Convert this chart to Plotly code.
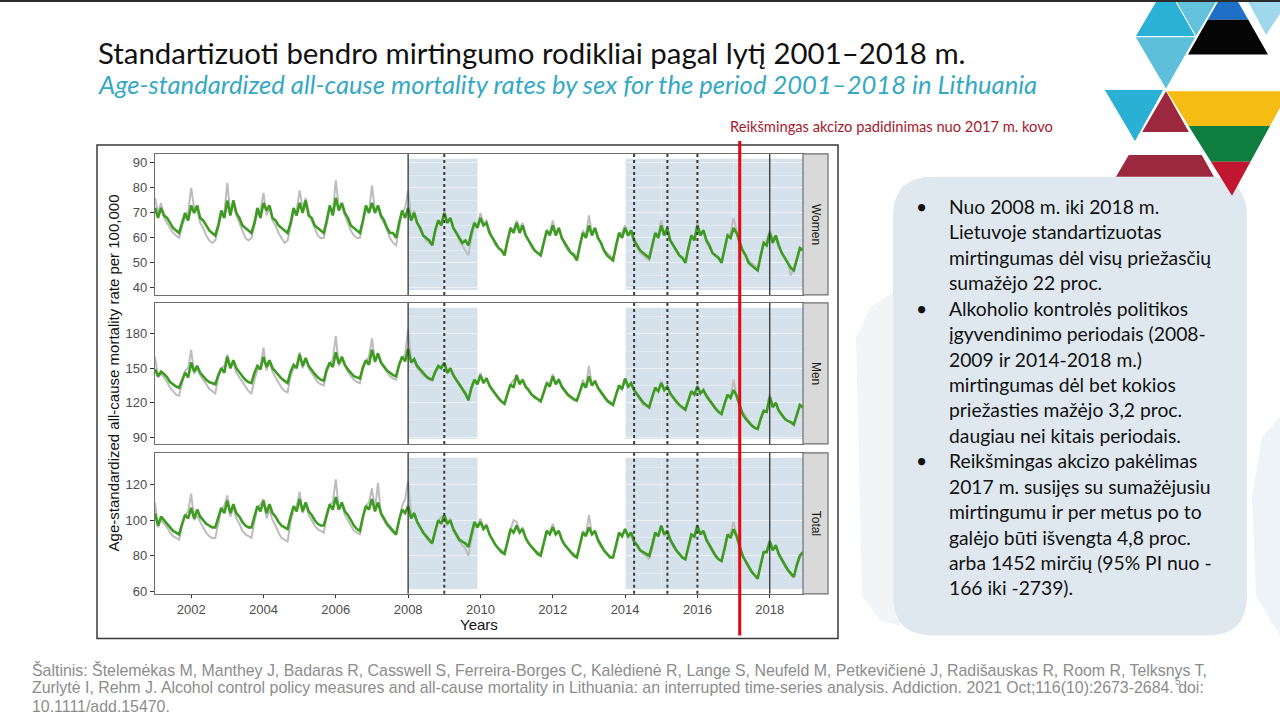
import plotly.graph_objects as go

# ---------------- data (monthly Jan..Dec) ----------------
YEARS = list(range(2001, 2019))

WOMEN_FIT = [
    72, 68, 72, 69, 68, 66, 64, 63, 62, 66, 70, 67,
    73, 70, 73, 68, 67, 65, 63, 62, 61, 65, 71, 68,
    75, 69, 75, 70, 68, 65, 64, 63, 62, 66, 72, 68,
    74, 71, 73, 68, 67, 65, 64, 63, 62, 66, 72, 69,
    74, 70, 75, 69, 68, 65, 64, 63, 62, 67, 73, 69,
    76, 71, 74, 70, 68, 65, 64, 63, 62, 67, 73, 70,
    74, 70, 73, 69, 67, 64, 62, 62, 60, 66, 71, 68,
    72, 67, 70, 66, 64, 61, 60, 59, 57, 63, 67, 65,
    70, 66, 68, 64, 62, 60, 58, 59, 57, 62, 66, 64,
    68, 65, 66, 62, 60, 58, 56, 55, 53, 59, 64, 62,
    66, 62, 65, 61, 59, 57, 55, 54, 53, 58, 63, 61,
    65, 61, 64, 60, 58, 56, 54, 53, 51, 57, 62, 60,
    65, 61, 64, 60, 58, 55, 53, 52, 51, 57, 62, 60,
    64, 61, 63, 59, 57, 55, 54, 53, 52, 57, 62, 60,
    65, 61, 64, 59, 57, 55, 53, 52, 50, 56, 61, 59,
    65, 61, 63, 59, 57, 54, 53, 52, 50, 56, 61, 60,
    64, 62, 58, 55, 53, 50, 49, 48, 47, 53, 58, 57,
    62, 58, 61, 57, 54, 52, 50, 48, 47, 52, 56, 55,
]
WOMEN_OBS = [
    76, 70, 74, 68, 66, 64, 62, 61, 60, 65, 68, 70,
    80, 72, 71, 66, 64, 61, 59, 58, 59, 64, 69, 70,
    82, 70, 74, 69, 66, 63, 60, 59, 60, 65, 70, 71,
    78, 69, 72, 67, 65, 62, 60, 58, 59, 64, 70, 71,
    79, 72, 76, 70, 67, 64, 61, 60, 60, 66, 72, 70,
    83, 72, 73, 69, 66, 63, 61, 60, 60, 66, 72, 70,
    81, 71, 72, 68, 66, 63, 60, 58, 57, 64, 70, 72,
    79, 68, 71, 66, 63, 61, 59, 58, 58, 63, 67, 66,
    71, 66, 68, 64, 62, 59, 57, 55, 53, 60, 66, 65,
    70, 66, 67, 63, 60, 57, 56, 55, 54, 59, 64, 63,
    67, 64, 66, 61, 59, 56, 55, 54, 54, 58, 63, 62,
    67, 62, 64, 60, 57, 55, 54, 54, 52, 57, 63, 61,
    69, 62, 64, 60, 58, 55, 54, 53, 52, 56, 62, 62,
    65, 61, 62, 58, 56, 54, 53, 52, 51, 56, 62, 61,
    67, 62, 63, 59, 57, 55, 53, 52, 51, 55, 61, 60,
    66, 62, 63, 58, 56, 54, 53, 52, 51, 55, 61, 62,
    68, 63, 57, 55, 53, 51, 50, 49, 48, 52, 58, 59,
    63, 60, 60, 56, 54, 52, 50, 45, 48, 51, 55, 56,
]
MEN_FIT = [
    149, 143, 147, 145, 142, 138, 136, 134, 133, 140, 146, 142,
    155, 147, 152, 146, 143, 140, 138, 137, 136, 144, 150, 146,
    160, 150, 157, 150, 146, 143, 140, 138, 137, 146, 152, 149,
    160, 151, 157, 150, 147, 144, 141, 139, 137, 147, 153, 150,
    162, 152, 159, 152, 148, 145, 142, 140, 139, 149, 155, 151,
    164, 154, 160, 153, 149, 146, 143, 142, 141, 151, 157, 153,
    166, 156, 163, 155, 151, 148, 146, 144, 143, 153, 160, 156,
    167, 155, 158, 152, 149, 146, 143, 141, 140, 147, 152, 150,
    155, 146, 150, 144, 140, 136, 132, 128, 122, 133, 140, 136,
    144, 137, 141, 135, 131, 127, 124, 121, 119, 128, 136, 133,
    144, 136, 140, 134, 131, 127, 125, 123, 121, 129, 137, 134,
    143, 136, 140, 134, 130, 127, 125, 123, 122, 130, 137, 133,
    143, 135, 139, 133, 129, 125, 122, 120, 118, 127, 135, 132,
    141, 134, 137, 131, 127, 123, 120, 118, 116, 125, 133, 130,
    137, 131, 134, 128, 124, 121, 118, 116, 114, 122, 130, 127,
    134, 128, 131, 126, 122, 118, 115, 112, 110, 119, 127, 124,
    131, 126, 118, 110, 106, 103, 100, 98, 97, 106, 113, 112,
    125, 116, 120, 113, 109, 106, 104, 103, 101, 110, 118, 116,
]
MEN_OBS = [
    160, 142, 145, 142, 138, 133, 130, 127, 126, 138, 148, 150,
    166, 145, 150, 144, 140, 136, 132, 130, 128, 142, 150, 152,
    162, 150, 155, 146, 142, 137, 133, 130, 128, 140, 148, 152,
    168, 148, 155, 147, 142, 137, 133, 130, 129, 143, 150, 153,
    164, 150, 157, 150, 146, 141, 138, 136, 135, 147, 153, 158,
    178, 152, 158, 152, 147, 143, 140, 138, 137, 149, 156, 160,
    176, 155, 161, 154, 150, 146, 143, 141, 140, 152, 159, 162,
    184, 157, 156, 150, 147, 144, 142, 140, 139, 146, 150, 152,
    154, 145, 150, 143, 139, 135, 130, 127, 124, 132, 140, 138,
    146, 137, 142, 134, 130, 126, 123, 121, 120, 127, 136, 140,
    142, 138, 139, 133, 130, 127, 124, 123, 122, 128, 138, 136,
    145, 136, 141, 133, 129, 126, 124, 122, 121, 129, 140, 134,
    152, 135, 138, 132, 128, 124, 121, 119, 118, 126, 133, 131,
    141, 133, 136, 130, 126, 121, 118, 117, 115, 124, 132, 130,
    139, 131, 134, 127, 123, 120, 117, 115, 113, 121, 129, 128,
    136, 128, 130, 125, 121, 117, 114, 112, 111, 118, 126, 125,
    140, 125, 117, 112, 108, 104, 101, 99, 98, 105, 112, 113,
    128, 118, 119, 112, 108, 105, 104, 102, 100, 108, 117, 115,
]
TOTAL_FIT = [
    104, 97, 102, 100, 98, 96, 94, 93, 92, 98, 103, 101,
    107, 101, 106, 102, 100, 98, 97, 96, 96, 101, 107, 104,
    111, 104, 109, 104, 102, 99, 97, 96, 96, 102, 108, 105,
    111, 104, 109, 104, 102, 99, 97, 96, 95, 102, 108, 105,
    112, 105, 110, 105, 103, 100, 98, 97, 97, 103, 109, 106,
    113, 106, 110, 105, 103, 100, 97, 95, 94, 102, 108, 106,
    112, 105, 110, 104, 101, 98, 96, 94, 92, 100, 106, 104,
    108, 101, 104, 99, 96, 93, 91, 89, 87, 94, 100, 98,
    103, 98, 100, 95, 92, 89, 88, 87, 85, 93, 99, 96,
    99, 95, 97, 92, 89, 86, 84, 82, 81, 88, 95, 93,
    97, 93, 95, 90, 87, 85, 83, 81, 80, 87, 94, 92,
    96, 92, 94, 89, 86, 84, 82, 80, 79, 86, 93, 91,
    96, 92, 94, 89, 86, 83, 81, 79, 79, 86, 93, 91,
    95, 91, 93, 88, 86, 83, 82, 81, 80, 86, 93, 91,
    97, 92, 94, 89, 86, 83, 81, 79, 78, 85, 92, 91,
    97, 92, 94, 89, 86, 83, 80, 78, 77, 84, 92, 90,
    95, 91, 85, 80, 77, 74, 71, 69, 67, 75, 82, 82,
    88, 83, 86, 81, 78, 75, 72, 70, 68, 75, 80, 82,
]
TOTAL_OBS = [
    110, 96, 100, 98, 96, 93, 91, 90, 89, 97, 103, 105,
    115, 100, 103, 99, 96, 93, 91, 90, 90, 99, 106, 108,
    114, 102, 107, 101, 98, 94, 92, 91, 90, 99, 107, 109,
    112, 101, 106, 100, 97, 93, 90, 89, 88, 99, 106, 108,
    116, 104, 109, 103, 100, 97, 95, 94, 93, 102, 109, 110,
    123, 106, 109, 103, 100, 97, 94, 93, 92, 101, 108, 110,
    118, 106, 121, 103, 100, 97, 95, 93, 92, 101, 108, 112,
    122, 103, 104, 99, 96, 93, 90, 88, 87, 94, 100, 102,
    102, 97, 101, 94, 91, 88, 86, 84, 80, 90, 98, 97,
    101, 96, 98, 92, 89, 86, 84, 83, 82, 88, 95, 100,
    99, 94, 96, 90, 87, 85, 83, 82, 81, 87, 94, 93,
    98, 92, 94, 89, 86, 84, 82, 81, 80, 86, 94, 92,
    103, 92, 93, 88, 85, 83, 81, 80, 79, 85, 92, 92,
    95, 90, 92, 87, 85, 83, 81, 80, 78, 84, 92, 91,
    97, 91, 93, 88, 85, 83, 81, 79, 78, 84, 91, 90,
    96, 92, 93, 88, 85, 82, 80, 78, 77, 83, 91, 93,
    99, 92, 84, 80, 76, 73, 71, 69, 68, 74, 82, 83,
    89, 84, 85, 80, 77, 74, 72, 69, 68, 74, 79, 82,
]

PANEL_NAMES = ["Women", "Men", "Total"]
SOLID_EVENTS = [2008.0, 2018.0]
DOTTED_EVENTS = [2009.0, 2014.25, 2015.17, 2016.0]
EXCISE_EVENT = 2017.17
POLICY_PERIODS = [(2008.0, 2009.92), (2014.0, 2018.92)]

TITLE = "Standartizuoti bendro mirtingumo rodikliai pagal lytį 2001–2018 m."
SUBTITLE = "Age-standardized all-cause mortality rates by sex for the period 2001–2018 in Lithuania"
RED_NOTE = "Reikšmingas akcizo padidinimas nuo 2017 m. kovo"
Y_TITLE = "Age-standardized all-cause mortality rate per 100,000"
X_TITLE = "Years"

BULLETS = [
    ["Nuo 2008 m. iki 2018 m.", "Lietuvoje standartizuotas",
     "mirtingumas dėl visų priežasčių", "sumažėjo 22 proc."],
    ["Alkoholio kontrolės politikos", "įgyvendinimo periodais (2008-",
     "2009 ir 2014-2018 m.)", "mirtingumas dėl bet kokios",
     "priežasties mažėjo 3,2 proc.", "daugiau nei kitais periodais."],
    ["Reikšmingas akcizo pakėlimas", "2017 m. susijęs su sumažėjusiu",
     "mirtingumu ir per metus po to", "galėjo būti išvengta 4,8 proc.",
     "arba 1452 mirčių (95% PI nuo -", "166 iki -2739)."],
]
FOOTER = [
    "Šaltinis: Štelemėkas M, Manthey J, Badaras R, Casswell S, Ferreira-Borges C, Kalėdienė R, Lange S, Neufeld M, Petkevičienė J, Radišauskas R, Room R, Telksnys T,",
    "Zurlytė I, Rehm J. Alcohol control policy measures and all-cause mortality in Lithuania: an interrupted time-series analysis. Addiction. 2021 Oct;116(10):2673-2684. doi:",
    "10.1111/add.15470.",
]

# ---------------- helpers ----------------
W, H = 1280, 720


def px(x):
    return x / W


def py(y):
    return 1 - y / H


X = [yr + m / 12 for yr in YEARS for m in range(12)]
X_RANGE = [2001.0, 2018.92]

panels = [
    dict(name="Women", obs=WOMEN_OBS, fit=WOMEN_FIT, yr=[37.2, 93.6], dt=10, top=155, bot=297),
    dict(name="Men", obs=MEN_OBS, fit=MEN_FIT, yr=[84, 207], dt=30, top=305, bot=447),
    dict(name="Total", obs=TOTAL_OBS, fit=TOTAL_FIT, yr=[58.5, 138], dt=20, top=456, bot=598),
]

PLOT_L, PLOT_R = 155, 803
TICKFONT = dict(family="Liberation Sans, Arial", size=13, color="#4d4d4d")
GRID = "rgba(255,255,255,0.55)"
MINOR_GRID = "rgba(255,255,255,0.35)"

fig = go.Figure()
shapes = []
annotations = []
layout = dict()

# faint slide watermark shapes
shapes.append(dict(type="path", xref="paper", yref="paper",
                   path=("M " + " L ".join(f"{px(a)},{py(b)}" for a, b in
                         [(900, 290), (870, 310), (856, 340), (862, 600), (880, 625), (900, 630)]) + " Z"),
                   fillcolor="#f1f5f8", line_width=0, layer="below"))
shapes.append(dict(type="path", xref="paper", yref="paper",
                   path=("M " + " L ".join(f"{px(a)},{py(b)}" for a, b in
                         [(1280, 420), (1262, 440), (1252, 500), (1256, 600), (1280, 640)]) + " Z"),
                   fillcolor="#eef3f7", line_width=0, layer="below"))

# outer chart frame
shapes.append(dict(type="rect", xref="paper", yref="paper", x0=px(97), x1=px(838),
                   y0=py(643), y1=py(146), line=dict(color="#3a3a3a", width=1.5),
                   fillcolor="white", layer="below"))

for i, p in enumerate(panels):
    xa = "x" if i == 0 else f"x{i+1}"
    ya = "y" if i == 0 else f"y{i+1}"
    xk = "xaxis" if i == 0 else f"xaxis{i+1}"
    yk = "yaxis" if i == 0 else f"yaxis{i+1}"
    fig.add_trace(go.Scatter(x=X, y=p["obs"], xaxis=xa, yaxis=ya, mode="lines",
                             line=dict(color="#bdbdbd", width=2), showlegend=False,
                             hoverinfo="skip"))
    fig.add_trace(go.Scatter(x=X, y=p["fit"], xaxis=xa, yaxis=ya, mode="lines",
                             line=dict(color="#3d9b22", width=2.6), showlegend=False,
                             hoverinfo="skip"))
    last = i == len(panels) - 1
    layout[xk] = dict(domain=[px(PLOT_L), px(PLOT_R)], anchor=ya, range=X_RANGE,
                      tick0=2002, dtick=2, showticklabels=last,
                      ticks="outside" if last else "", ticklen=3, tickcolor="#333",
                      tickfont=TICKFONT, showgrid=True, gridcolor=GRID, gridwidth=1,
                      minor=dict(showgrid=True, gridcolor=MINOR_GRID, tick0=2001, dtick=1),
                      showline=True, mirror=True, linecolor="#6e6e6e", linewidth=1.2,
                      zeroline=False, fixedrange=True)
    layout[yk] = dict(domain=[py(p["bot"]), py(p["top"])], anchor=xa, range=p["yr"],
                      dtick=p["dt"], ticks="outside", ticklen=4, tickcolor="#333",
                      tickfont=TICKFONT, showgrid=True, gridcolor=GRID,
                      minor=dict(showgrid=True, gridcolor=MINOR_GRID, dtick=p["dt"] / 2),
                      showline=True, mirror=True, linecolor="#6e6e6e", linewidth=1.2,
                      zeroline=False, fixedrange=True)
    # policy periods
    for a, b in POLICY_PERIODS:
        shapes.append(dict(type="rect", xref=xa, yref=f"{ya} domain", x0=a, x1=b,
                           y0=0.035, y1=0.965, fillcolor="#d5e2eb", line_width=0,
                           layer="below"))
    for e in SOLID_EVENTS:
        shapes.append(dict(type="line", xref=xa, yref=f"{ya} domain", x0=e, x1=e,
                           y0=0, y1=1, line=dict(color="#333333", width=1.3),
                           layer="above"))
    for e in DOTTED_EVENTS:
        shapes.append(dict(type="line", xref=xa, yref=f"{ya} domain", x0=e, x1=e,
                           y0=0, y1=1, line=dict(color="#3a3a3a", width=2, dash="3px,3px"),
                           layer="above"))
    # facet strip
    shapes.append(dict(type="rect", xref="paper", yref="paper", x0=px(803), x1=px(828),
                       y0=py(p["bot"]), y1=py(p["top"]), fillcolor="#d9d9d9",
                       line=dict(color="#6e6e6e", width=1.2), layer="above"))
    annotations.append(dict(text=p["name"], x=px(815.5), y=py((p["top"] + p["bot"]) / 2),
                            xref="paper", yref="paper", showarrow=False, textangle=90,
                            font=dict(family="Liberation Sans, Arial", size=12, color="#1a1a1a"),
                            xanchor="center", yanchor="middle"))

# red excise line
shapes.append(dict(type="line", xref="x3", yref="paper", x0=EXCISE_EVENT, x1=EXCISE_EVENT,
                   y0=py(640), y1=py(142), line=dict(color="#e30613", width=3), layer="above"))

# axis titles
annotations.append(dict(text=Y_TITLE, x=px(113), y=py(376), xref="paper", yref="paper",
                        showarrow=False, textangle=-90, xanchor="center", yanchor="middle",
                        font=dict(family="Liberation Sans, Arial", size=15, color="#111")))
annotations.append(dict(text=X_TITLE, x=px(479), y=py(629), xref="paper", yref="paper",
                        showarrow=False, xanchor="center", yanchor="middle",
                        font=dict(family="Liberation Sans, Arial", size=15, color="#111")))

# titles
annotations.append(dict(text=TITLE, x=px(96), y=py(53), xref="paper", yref="paper",
                        showarrow=False, xanchor="left", yanchor="middle",
                        font=dict(family="Lato", size=29.4, color="#111")))
annotations.append(dict(text="<i>" + SUBTITLE + "</i>", x=px(96), y=py(85), xref="paper",
                        yref="paper", showarrow=False, xanchor="left", yanchor="middle",
                        font=dict(family="Lato", size=25.6, color="#35a9c4")))
annotations.append(dict(text=RED_NOTE, x=px(728), y=py(127), xref="paper", yref="paper",
                        showarrow=False, xanchor="left", yanchor="middle",
                        font=dict(family="Lato", size=14.7, color="#a8182c")))


# rounded text box
def rounded_rect(x0, y0, x1, y1, r):
    pts = [
        f"M {px(x0 + r)},{py(y0)}",
        f"L {px(x1 - r)},{py(y0)}",
        f"Q {px(x1)},{py(y0)} {px(x1)},{py(y0 + r)}",
        f"L {px(x1)},{py(y1 - r)}",
        f"Q {px(x1)},{py(y1)} {px(x1 - r)},{py(y1)}",
        f"L {px(x0 + r)},{py(y1)}",
        f"Q {px(x0)},{py(y1)} {px(x0)},{py(y1 - r)}",
        f"L {px(x0)},{py(y0 + r)}",
        f"Q {px(x0)},{py(y0)} {px(x0 + r)},{py(y0)}",
        "Z",
    ]
    return " ".join(pts)


shapes.append(dict(type="path", xref="paper", yref="paper",
                   path=rounded_rect(893, 178, 1247, 640, 40),
                   fillcolor="#dfe8ef", line_width=0, layer="below"))

# decorative triangles
def clip_band(poly, y0, y1):
    def clip(pl, keep, yc):
        out = []
        n = len(pl)
        for k in range(n):
            cur, prev = pl[k], pl[k - 1]
            cin, pin = keep(cur[1]), keep(prev[1])
            if cin != pin:
                t = (yc - prev[1]) / (cur[1] - prev[1])
                out.append((prev[0] + t * (cur[0] - prev[0]), yc))
            if cin:
                out.append(cur)
        return out
    pl = clip(poly, lambda v: v >= y0, y0)
    if pl:
        pl = clip(pl, lambda v: v <= y1, y1)
    return pl


def poly_path(pl):
    s = "M " + " L ".join(f"{px(a)},{py(b)}" for a, b in pl) + " Z"
    return s


def add_tri(pl, color, bands=None):
    if bands is None:
        shapes.append(dict(type="path", xref="paper", yref="paper", path=poly_path(pl),
                           fillcolor=color, line=dict(color="white", width=1), layer="above"))
    else:
        for (b0, b1, c) in bands:
            cl = clip_band(pl, b0, b1)
            if len(cl) >= 3:
                shapes.append(dict(type="path", xref="paper", yref="paper",
                                   path=poly_path(cl), fillcolor=c, line_width=0,
                                   layer="above"))


add_tri([(1135, 37), (1196, 37), (1166, -16)], "#2bb0d6")
add_tri([(1166, -16), (1227, -16), (1196, 37)], "#64c2dd")
add_tri([(1238, -16), (1300, -16), (1266, 36)], "#9fd8ec")
add_tri([(1228, -16), (1188, 55), (1268, 55)], None,
        [(-20, 20, "#1e6fc6"), (20, 55, "#050505")])
add_tri([(1135, 37), (1196, 37), (1166, 90)], "#5ebfdb")
add_tri([(1104, 90), (1164, 90), (1135, 143)], "#2aafd5")
add_tri([(1166, 92), (1116, 178), (1214, 178)], None,
        [(92, 133, "#9c2840"), (133, 156, "#ffffff"), (156, 178, "#9c2840")])
add_tri([(1167, 92), (1289, 92), (1232, 197)], None,
        [(92, 127, "#f5bd14"), (127, 163, "#0f7d3e"), (163, 197, "#c1162f")])

# bullets text
line_y = 208
step = 25.6
BODY = dict(family="Lato", size=19.3, color="#111")
for group in BULLETS:
    annotations.append(dict(text="•", x=px(921), y=py(line_y), xref="paper", yref="paper",
                            showarrow=False, xanchor="center", yanchor="middle", font=BODY))
    for ln in group:
        annotations.append(dict(text=ln, x=px(947), y=py(line_y), xref="paper", yref="paper",
                                showarrow=False, xanchor="left", yanchor="middle", font=BODY))
        line_y += step

# footer
for k, (t, yy) in enumerate(zip(FOOTER, [675, 692, 711])):
    annotations.append(dict(text=t, x=px(30), y=py(yy), xref="paper", yref="paper",
                            showarrow=False, xanchor="left", yanchor="middle",
                            font=dict(family="Liberation Sans, Arial",
                                      size=15.9, color="#8c8c8c")))
annotations.append(dict(text="5", x=px(1178), y=py(686), xref="paper", yref="paper",
                        showarrow=False, xanchor="center", yanchor="middle",
                        font=dict(family="Liberation Sans", size=10, color="#8c8c8c")))

# thin top border
shapes.append(dict(type="rect", xref="paper", yref="paper", x0=0, x1=1, y0=py(2), y1=1,
                   fillcolor="#2b2b2b", line_width=0, layer="above"))

fig.update_layout(
    width=W, height=H, margin=dict(l=0, r=0, t=0, b=0),
    paper_bgcolor="white", plot_bgcolor="#eaf1f5",
    shapes=shapes, annotations=annotations, showlegend=False,
    **layout,
)

fig.write_html("out.html", config=dict(displayModeBar=False))
